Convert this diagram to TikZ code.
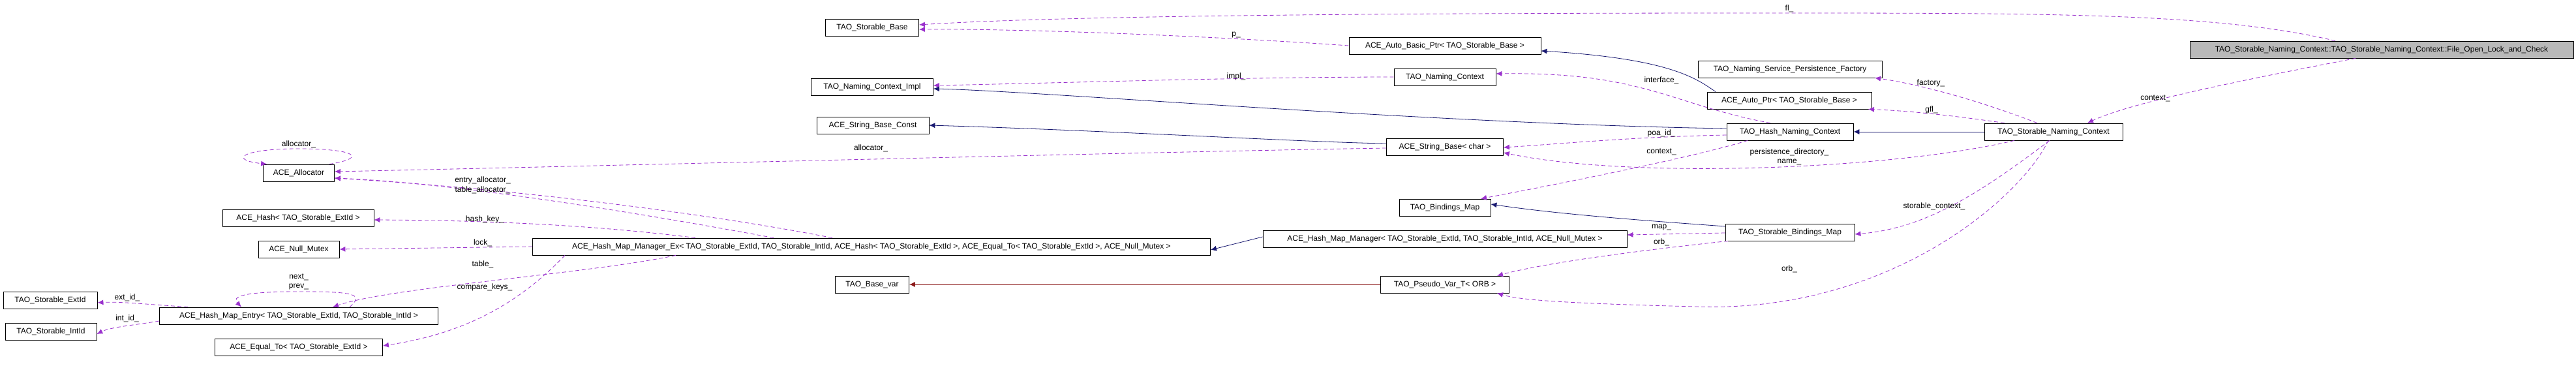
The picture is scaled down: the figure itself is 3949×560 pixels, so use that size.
\documentclass[tikz,border=0pt]{standalone}
\usepackage{fontspec}
\setmainfont{Liberation Sans}
\usetikzlibrary{arrows.meta,calc}
\definecolor{dep}{HTML}{9A32CD}
\definecolor{inh}{HTML}{191970}
\definecolor{tpl}{HTML}{8B1A1A}
\tikzset{
 box/.style={draw=black,fill=white,minimum height=26pt,inner sep=0pt,font=\fontsize{12}{13}\selectfont,line width=0.8pt},
 lab/.style={font=\fontsize{12}{13}\selectfont,inner sep=1pt},
 use/.style={draw=dep,dashed,dash pattern=on 6pt off 4pt,line width=0.8pt,-{Latex[length=9pt,width=8pt]}},
 isa/.style={draw=inh,line width=0.8pt,-{Latex[length=9pt,width=8pt]}},
 tmp/.style={draw=tpl,line width=0.8pt,-{Latex[length=9pt,width=8pt]}}
}
\begin{document}
\begin{tikzpicture}[x=1pt,y=-1pt]
\useasboundingbox (0,0) rectangle (3949,560);
% nodes
\node[box,minimum width=588pt,fill=gray!55] (fo) at (3651,76) {TAO\_Storable\_Naming\_Context::TAO\_Storable\_Naming\_Context::File\_Open\_Lock\_and\_Check};
\node[box,minimum width=212pt] (snc) at (3148,202) {TAO\_Storable\_Naming\_Context};
\node[box,minimum width=282pt] (fac) at (2744,106) {TAO\_Naming\_Service\_Persistence\_Factory};
\node[box,minimum width=252pt] (ap) at (2743,154) {ACE\_Auto\_Ptr< TAO\_Storable\_Base >};
\node[box,minimum width=194pt] (hnc) at (2744,202) {TAO\_Hash\_Naming\_Context};
\node[box,minimum width=198pt] (sbm) at (2744,356) {TAO\_Storable\_Bindings\_Map};
\node[box,minimum width=294pt] (abp) at (2215,70) {ACE\_Auto\_Basic\_Ptr< TAO\_Storable\_Base >};
\node[box,minimum width=156pt] (nc) at (2215,118) {TAO\_Naming\_Context};
\node[box,minimum width=179pt] (sbc) at (2215,225) {ACE\_String\_Base< char >};
\node[box,minimum width=140pt] (bm) at (2215,318) {TAO\_Bindings\_Map};
\node[box,minimum width=558pt] (hmm) at (2215,366) {ACE\_Hash\_Map\_Manager< TAO\_Storable\_ExtId, TAO\_Storable\_IntId, ACE\_Null\_Mutex >};
\node[box,minimum width=197pt] (pv) at (2215,436) {TAO\_Pseudo\_Var\_T< ORB >};
\node[box,minimum width=143pt] (sb) at (1337,42) {TAO\_Storable\_Base};
\node[box,minimum width=187pt] (nci) at (1337,133) {TAO\_Naming\_Context\_Impl};
\node[box,minimum width=172pt] (sbcst) at (1338,192) {ACE\_String\_Base\_Const};
\node[box,minimum width=113pt] (bv) at (1337,436) {TAO\_Base\_var};
\node[box,minimum width=1039pt] (hmx) at (1336,378) {ACE\_Hash\_Map\_Manager\_Ex< TAO\_Storable\_ExtId, TAO\_Storable\_IntId, ACE\_Hash< TAO\_Storable\_ExtId >, ACE\_Equal\_To< TAO\_Storable\_ExtId >, ACE\_Null\_Mutex >};
\node[box,minimum width=109pt] (al) at (458,265) {ACE\_Allocator};
\node[box,minimum width=232pt] (hs) at (457,334) {ACE\_Hash< TAO\_Storable\_ExtId >};
\node[box,minimum width=124pt] (nm) at (458,382) {ACE\_Null\_Mutex};
\node[box,minimum width=427pt] (en) at (458,484) {ACE\_Hash\_Map\_Entry< TAO\_Storable\_ExtId, TAO\_Storable\_IntId >};
\node[box,minimum width=257pt] (eq) at (458,532) {ACE\_Equal\_To< TAO\_Storable\_ExtId >};
\node[box,minimum width=144pt] (ext) at (77,460) {TAO\_Storable\_ExtId};
\node[box,minimum width=140pt] (int) at (78,508) {TAO\_Storable\_IntId};
% edges
\draw[use] ([xshift=-71pt]fo.north) .. controls (3400,20) and (3150,20) .. (2700,20) .. controls (2000,20) and (1600,26) .. ([yshift=4pt]sb.east);
\draw[use] (abp.west) .. controls (1900,58) and (1600,44) .. ([yshift=-3pt]sb.east);
\draw[use] ([xshift=-40pt]fo.south) .. controls (3400,130) and (3260,160) .. ([xshift=52pt]snc.north);
\draw[use] (nc.west) .. controls (1900,118) and (1600,128) .. ([yshift=2pt]nci.east);
\draw[isa] ([yshift=5pt]hnc.west) .. controls (2200,190) and (1600,140) .. ([yshift=-3pt]nci.east);
\draw[isa] ([yshift=5pt]sbc.west) .. controls (2000,218) and (1700,200) .. (sbcst.east);
\draw[use] ([yshift=-2pt]sbc.west) .. controls (1800,232) and (900,255) .. ([yshift=2pt]al.east);
\draw[use] ([xshift=-8pt]al.north east) .. controls (565,242) and (545,228) .. (458,228) .. controls (370,228) and (350,245) .. ([xshift=6pt]al.north west);
\draw[use] ([xshift=-150pt]hmx.north) .. controls (1000,330) and (700,280) .. ([yshift=-8pt]al.east);
\draw[use] ([xshift=-60pt]hmx.north) .. controls (1100,330) and (800,290) .. ([yshift=-8pt]al.east);
\draw[use] ([xshift=-270pt]hmx.north) .. controls (950,350) and (800,338) .. ([yshift=-3pt]hs.east);
\draw[use] (hmx.west) -- (nm.east);
\draw[use] ([xshift=-300pt]hmx.south) .. controls (900,420) and (600,440) .. ([xshift=52pt]en.north);
\draw[use] ([xshift=-470pt]hmx.south) .. controls (800,460) and (720,510) .. ([yshift=2pt]eq.east);
\draw[use] ([xshift=78pt]en.north) .. controls (560,450) and (540,447) .. (458,447) .. controls (370,447) and (355,455) .. ([xshift=-88pt]en.north);
\draw[use] ([xshift=-170pt]en.north) .. controls (220,466) and (180,462) .. ([yshift=-4pt]ext.east);
\draw[use] ([yshift=-8pt]en.west) .. controls (210,498) and (170,501) .. ([yshift=-4pt]int.east);
\draw[isa] ([yshift=3pt]hmm.west) -- ([yshift=-5pt]hmx.east);
\draw[tmp] (pv.west) -- (bv.east);
\draw[isa] ([xshift=-113pt]ap.north) .. controls (2600,120) and (2560,90) .. ([yshift=-8pt]abp.east);
\draw[use] ([xshift=-30pt]hnc.north) .. controls (2560,160) and (2520,110) .. ([yshift=5pt]nc.east);
\draw[use] ([yshift=-5pt]hnc.west) .. controls (2500,210) and (2400,220) .. ([yshift=-1pt]sbc.east);
\draw[use] ([xshift=-65pt]hnc.south) .. controls (2600,240) and (2400,280) .. ([xshift=55pt]bm.north);
\draw[isa] (snc.west) -- (hnc.east);
\draw[use] ([xshift=-25pt]snc.north) .. controls (3050,160) and (2950,130) .. ([xshift=130pt]fac.south);
\draw[use] ([xshift=-75pt]snc.north) .. controls (3000,178) and (2930,170) .. ([xshift=121pt]ap.south);
\draw[use] ([xshift=-60pt]snc.south) .. controls (2900,260) and (2500,275) .. ([yshift=-9pt]sbc.east);
\draw[use] ([xshift=-6pt]snc.south) .. controls (3030,300) and (2950,350) .. ([yshift=-3pt]sbm.east);
\draw[use] ([xshift=-8pt]snc.south) .. controls (3100,300) and (2900,480) .. (2600,470) .. controls (2400,465) and (2330,460) .. ([xshift=80pt]pv.south);
\draw[use] ([yshift=-1pt]sbm.west) -- ([yshift=6pt]hmm.east);
\draw[use] ([xshift=-95pt]sbm.south) .. controls (2550,380) and (2380,400) .. ([xshift=80pt]pv.north);
\draw[isa] ([yshift=9pt]sbm.west) .. controls (2550,340) and (2400,330) .. ([yshift=5pt]bm.east);
% labels
\node[lab] (l1) at (2743,13) {fl\_};
\node[lab] (l2) at (1895,54) {p\_};
\node[lab] (l3) at (3304,151) {context\_};
\node[lab] (l4) at (1895,117) {impl\_};
\node[lab] (l5) at (1335,227) {allocator\_};
\node[lab] (l6) at (458,221) {allocator\_};
\node[lab] (l7) at (740,276) {entry\_allocator\_};
\node[lab] (l8) at (740,291) {table\_allocator\_};
\node[lab] (l9) at (743,336) {hash\_key\_};
\node[lab] (l10) at (740,372) {lock\_};
\node[lab] (l11) at (740,405) {table\_};
\node[lab] (l12) at (743,440) {compare\_keys\_};
\node[lab] (l13) at (458,425) {next\_};
\node[lab] (l14) at (458,440) {prev\_};
\node[lab] (l15) at (195,456) {ext\_id\_};
\node[lab] (l16) at (195,488) {int\_id\_};
\node[lab] (l17) at (2547,123) {interface\_};
\node[lab] (l18) at (2547,204) {poa\_id\_};
\node[lab] (l19) at (2547,233) {context\_};
\node[lab] (l20) at (2960,127) {factory\_};
\node[lab] (l21) at (2961,168) {gfl\_};
\node[lab] (l22) at (2743,233) {persistence\_directory\_};
\node[lab] (l23) at (2743,248) {name\_};
\node[lab] (l24) at (2965,316) {storable\_context\_};
\node[lab] (l25) at (2743,412) {orb\_};
\node[lab] (l26) at (2547,349) {map\_};
\node[lab] (l27) at (2547,371) {orb\_};
\end{tikzpicture}
\end{document}
